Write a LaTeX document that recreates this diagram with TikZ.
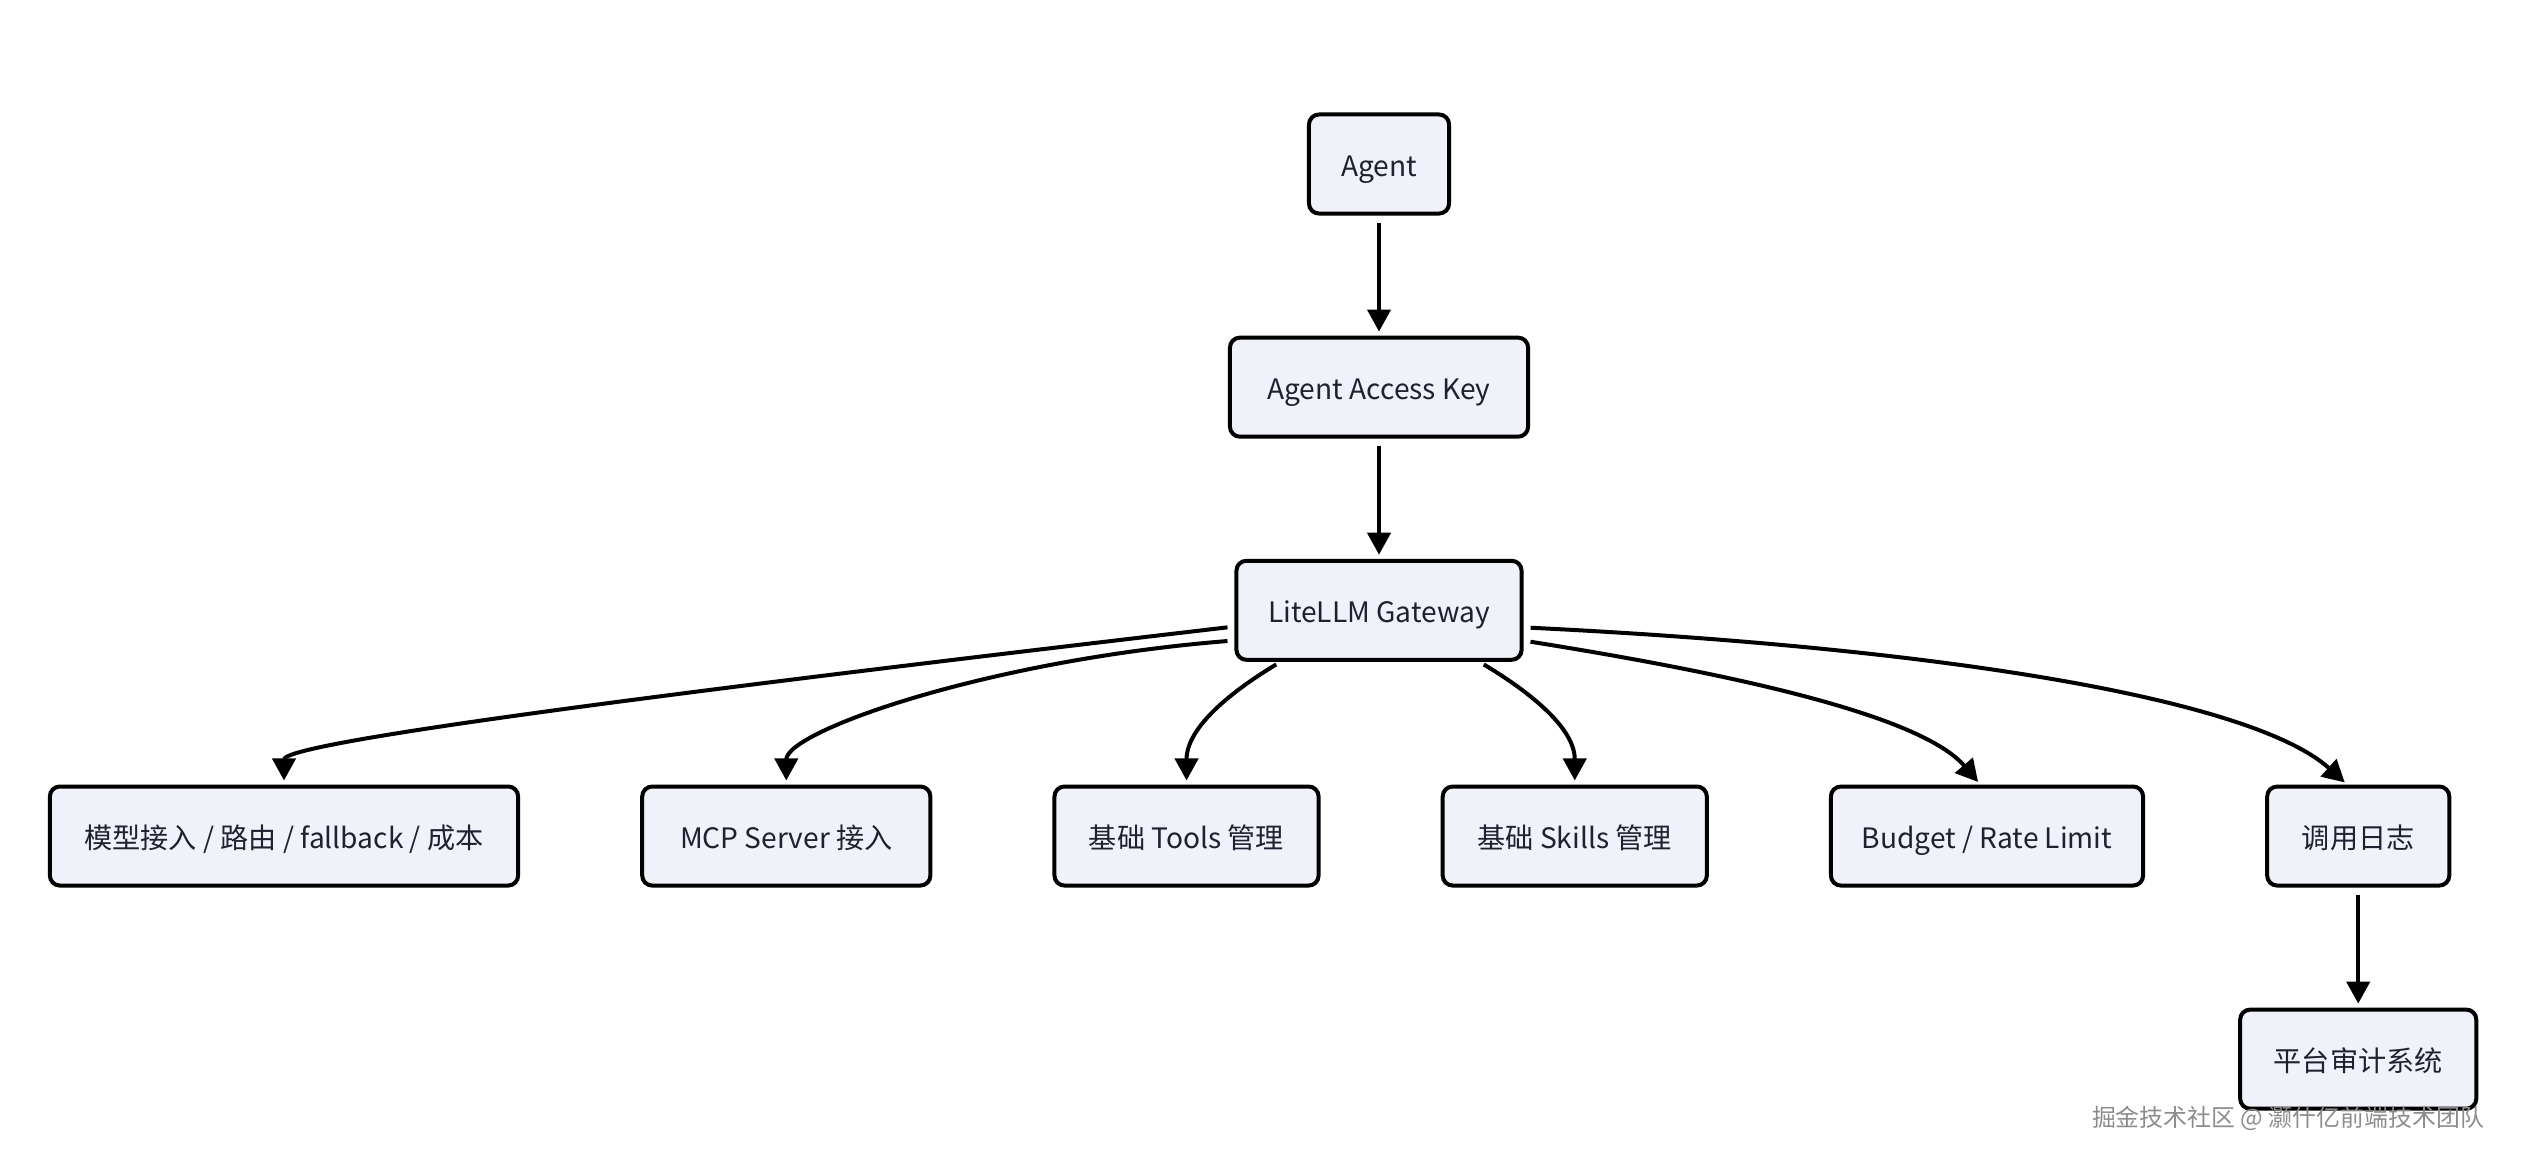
\documentclass[tikz,border=0pt]{standalone}
\usepackage{fontspec}
\setmainfont{Noto Sans CJK SC}
\usetikzlibrary{positioning, arrows.meta}
\definecolor{boxfill}{HTML}{F0F2FA}
\definecolor{boxtext}{HTML}{1E2230}
\tikzstyle{block} = [rectangle, rounded corners=0.1cm, minimum height=0.99cm, outer sep=0pt, draw=black, line width=0.04cm, fill=boxfill, text=boxtext, font=\fontsize{8}{10}\selectfont, text height=0.8em, text depth=0.08em, text centered]
\tikzstyle{flow} = [line width=0.04cm, -{Triangle[width=0.23cm, length=0.22cm]}, shorten <=0.09cm, shorten >=0.06cm]

\begin{document}
\begin{tikzpicture}[x=0.01cm, y=-0.01cm, node distance=1.24cm]
\useasboundingbox (0,0) rectangle (2522,1162);

% Entry chain
\node[block, minimum width=1.4cm] (agent) at (1379,164) {Agent};
\node[block, minimum width=2.98cm, below=of agent] (key) {Agent Access Key};
\node[block, minimum width=2.85cm, below=of key] (gateway) {LiteLLM Gateway};

% Capability row
\node[block, minimum width=4.68cm] (model) at (284,836) {模型接入 / 路由 / fallback / 成本};
\node[block, minimum width=2.88cm, right=of model] (mcp) {MCP Server 接入};
\node[block, minimum width=2.64cm, right=of mcp] (tools) {基础 Tools 管理};
\node[block, minimum width=2.64cm, right=of tools] (skills) {基础 Skills 管理};
\node[block, minimum width=3.12cm, right=of skills] (budget) {Budget / Rate Limit};
\node[block, minimum width=1.82cm, right=of budget] (calllog) {调用日志};

% Audit
\node[block, minimum width=2.36cm, below=of calllog] (audit) {平台审计系统};

% Connectors
\draw[flow] (agent) -- (key);
\draw[flow] (key) -- (gateway);
\draw[flow] ([yshift=-0.16cm]gateway.west) .. controls +(-530,62) and +(0,-45) .. (model.north);
\draw[flow] ([yshift=-0.3cm]gateway.west) .. controls +(-250,20) and +(0,-55) .. (mcp.north);
\draw[flow] ([xshift=-0.95cm]gateway.south) .. controls +(-50,30) and +(0,-60) .. (tools.north);
\draw[flow] ([xshift=0.97cm]gateway.south) .. controls +(50,30) and +(0,-60) .. (skills.north);
\draw[flow] ([yshift=-0.3cm]gateway.east) .. controls +(220,35) and +(-60,-70) .. ([xshift=-0.05cm]budget.north);
\draw[flow] ([yshift=-0.17cm]gateway.east) .. controls +(430,21) and +(-95,-86) .. ([xshift=-0.09cm]calllog.north);
\draw[flow] (calllog) -- (audit);

% Watermark
\node[text=black!45, font=\fontsize{6.8}{8}\selectfont] (mark) at (2288,1118) {掘金技术社区 @ 灏什亿前端技术团队};

\end{tikzpicture}
\end{document}
